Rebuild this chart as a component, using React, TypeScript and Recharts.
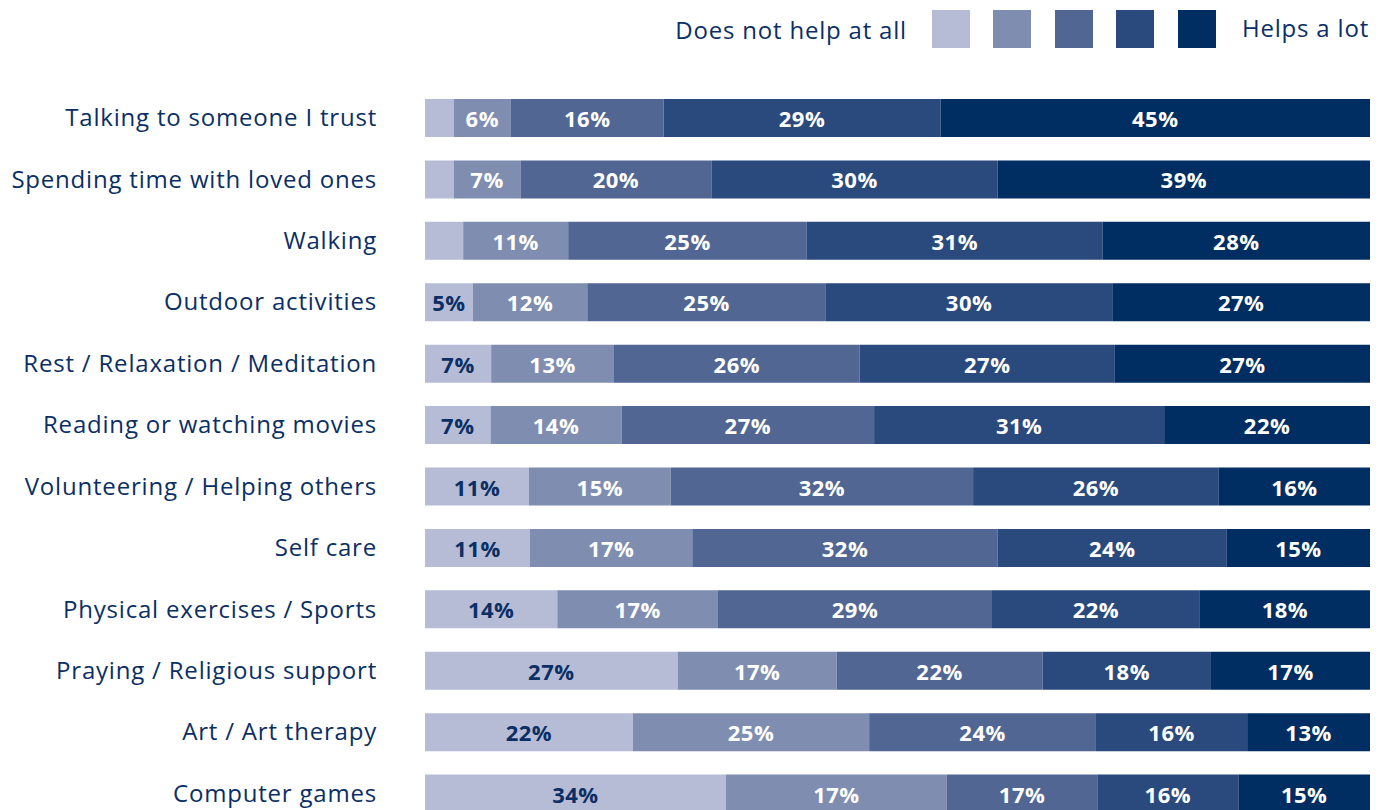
import { BarChart, Bar, XAxis, YAxis, Legend, LabelList } from "recharts"

const categories = [
  "Talking to someone I trust",
  "Spending time with loved ones",
  "Walking",
  "Outdoor activities",
  "Rest / Relaxation / Meditation",
  "Reading or watching movies",
  "Volunteering / Helping others",
  "Self care",
  "Physical exercises / Sports",
  "Praying / Religious support",
  "Art / Art therapy",
  "Computer games",
]

// segment lengths, "does not help at all" (s1) to "helps a lot" (s5)
const s1 = [3, 3, 4, 5, 7, 7, 11, 11, 14, 27, 22, 32]
const s2 = [6, 7, 11, 12, 13, 14, 15, 17, 17, 17, 25, 23.5]
const s3 = [16, 20, 25, 25, 26, 27, 32, 32, 29, 22, 24, 16]
const s4 = [29, 30, 31, 30, 27, 31, 26, 24, 22, 18, 16, 15]
const s5 = [45, 39, 28, 27, 27, 22, 16, 15, 18, 17, 13, 14]

// printed percentages (null = not printed)
const l1 = [null, null, null, 5, 7, 7, 11, 11, 14, 27, 22, 34]
const l2 = [6, 7, 11, 12, 13, 14, 15, 17, 17, 17, 25, 17]
const l3 = [16, 20, 25, 25, 26, 27, 32, 32, 29, 22, 24, 17]
const l4 = [29, 30, 31, 30, 27, 31, 26, 24, 22, 18, 16, 16]
const l5 = [45, 39, 28, 27, 27, 22, 16, 15, 18, 17, 13, 15]

const colors = ["#b6bcd6", "#7f8db0", "#526693", "#2a4a7e", "#002d62"]
const navy = "#0b2f64"
const keys = ["s1", "s2", "s3", "s4", "s5"]
const labels = [l1, l2, l3, l4, l5]

const data = categories.map((name, i) => ({
  name,
  s1: s1[i],
  s2: s2[i],
  s3: s3[i],
  s4: s4[i],
  s5: s5[i],
}))

function LegendBox() {
  return (
    <div
      style={{
        height: 60,
        display: "flex",
        justifyContent: "flex-end",
        alignItems: "flex-start",
        fontFamily: "Open Sans",
        fontSize: 24,
        letterSpacing: 0.8,
        color: navy,
        paddingRight: 17,
      }}
    >
      <span style={{ marginTop: 13, marginRight: 25 }}>Does not help at all</span>
      {colors.map((c, i) => (
        <span
          key={c}
          style={{
            width: 38,
            height: 38,
            background: c,
            marginTop: 10,
            marginRight: i < colors.length - 1 ? 23.5 : 26,
            display: "inline-block",
          }}
        />
      ))}
      <span style={{ marginTop: 11 }}>Helps a lot</span>
    </div>
  )
}

const makeLabel = (idx: number) => (props: any) => {
  const { x, y, width, height, index } = props
  const txt = labels[idx][index]
  if (txt == null) return null
  return (
    <text
      x={x + width / 2}
      y={y + height / 2}
      textAnchor="middle"
      dominantBaseline="central"
      fill={idx === 0 ? navy : "#ffffff"}
      fontFamily="Open Sans"
      fontWeight={700}
      fontSize={22}
      letterSpacing={0.5}
    >
      {txt}%
    </text>
  )
}

export default function App() {
  return (
    <div style={{ position: "absolute", left: 0, top: 0 }}>
      <BarChart
        width={1386}
        height={824}
        data={data}
        layout="vertical"
        stackOffset="expand"
        barSize={38}
        margin={{ top: 27, right: 16, left: 0, bottom: 0 }}
      >
        <XAxis type="number" hide domain={[0, 1]} />
        <YAxis
          type="category"
          dataKey="name"
          width={425}
          axisLine={false}
          tickLine={false}
          tickSize={0}
          tickMargin={48}
          interval={0}
          tick={{ fill: navy, fontSize: 24, fontFamily: "Open Sans", letterSpacing: 0.8 }}
        />
        <Legend
          verticalAlign="top"
          align="right"
          content={<LegendBox />}
          wrapperStyle={{ top: 0, left: 0, width: 1386 }}
        />
        {keys.map((k, i) => (
          <Bar key={k} dataKey={k} stackId="a" fill={colors[i]} isAnimationActive={false}>
            <LabelList dataKey={k} content={makeLabel(i)} />
          </Bar>
        ))}
      </BarChart>
    </div>
  )
}
